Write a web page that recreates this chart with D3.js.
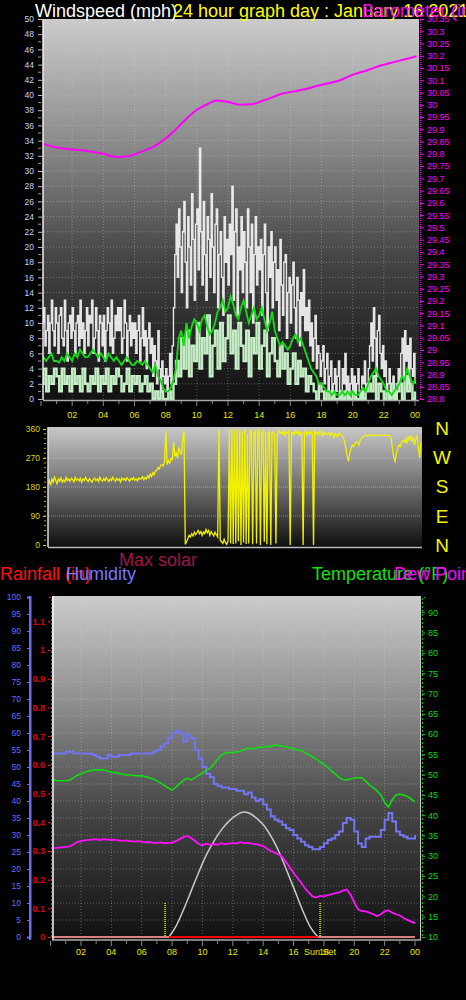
<!DOCTYPE html>
<html>
<head>
<meta charset="utf-8">
<script src="https://cdn.jsdelivr.net/npm/d3@7"></script>
<style>
body { margin: 0; background: #000; overflow: hidden; }
svg { display: block; }
text { font-family: "Liberation Sans", Arial, sans-serif; }
</style>
</head>
<body>
<div id="chart"></div>
<script>
// ---- data ----
// wind gusts, mph, every 5 minutes (12 per hour)
var gust = [
  8,10,12,7,9,11,6,10,13,9,7,12,
  10,6,11,12,8,7,13,9,5,10,11,8,
  12,9,6,10,11,7,13,8,10,6,9,12,
  7,11,10,13,6,8,12,9,5,11,10,7,
  11,5,9,12,10,7,13,6,8,11,9,12,
  9,12,6,8,13,10,5,9,11,7,10,8,
  10,6,9,11,5,8,12,7,9,4,8,10,
  6,8,3,7,5,2,9,4,1,5,3,2,
  4,1,3,6,2,7,12,19,23,16,25,20,
  14,22,26,18,12,24,20,15,27,21,13,23,
  25,17,33,22,15,26,19,13,24,21,16,27,
  20,14,23,25,12,19,22,16,11,24,18,21,
  15,23,19,28,13,22,25,11,20,17,24,14,
  22,18,12,25,20,14,23,10,19,24,15,20,
  17,21,11,19,23,14,9,20,16,22,12,18,
  20,13,17,9,21,15,11,18,19,8,14,16,
  10,15,18,12,8,16,13,7,14,11,17,9,
  12,9,13,7,10,5,8,11,4,7,6,3,
  5,7,2,4,6,1,3,5,0,2,4,1,
  3,5,1,0,4,2,6,1,3,0,2,4,
  1,3,0,2,4,1,0,3,2,5,1,2,
  4,7,10,5,12,8,3,9,11,6,4,7,
  3,5,1,2,4,0,2,3,1,0,2,4,
  2,6,8,3,9,5,7,2,8,4,3,6,
  2
];
// wind speed, mph, every 10 minutes
var speed = [
  2,4,1,3,2,4, 3,1,4,2,3,1, 4,2,3,1,4,2, 1,3,2,4,1,3,
  2,4,1,3,2,4, 3,1,2,4,1,3, 2,3,1,2,3,1, 2,0,1,0,1,0,
  0,1,0,2,5,3, 8,4,9,3,7,5, 10,4,8,6,11,3, 7,9,4,10,5,8,
  11,6,9,4,10,7, 5,9,3,8,6,10, 4,7,9,3,6,8, 5,3,7,4,6,2,
  4,6,2,5,3,4, 1,3,2,1,0,2, 1,0,1,0,1,0, 0,1,0,1,0,0,
  1,0,0,1,0,1, 2,1,3,0,2,1, 0,1,0,2,0,1, 2,0,3,1,2,0,
  1
];
// 10 minute average wind, mph, every 10 minutes
var avgWind = [
  6,5.5,5,5.5,6,5, 5,4.8,5.5,5,6,5.5, 5,6,5.5,6.5,6,5.5, 5.5,6,6.5,6,5.5,6,
  5.5,5,6,5.5,5,5.5, 5,4.5,5,5.5,5,4.5, 4.5,5,4.8,4.5,5,4.5, 4,3.5,4.5,3,2.5,1.5,
  1,1,1.5,2.5,4,8, 9,7,10,8,9.5,10.5, 10,9,10.5,11,9.5,8.5, 9,10,11.5,12,13,11.5,
  12,13.5,12.5,11,10.5,12, 13,11.5,10,11,12,10.5, 11,12,10.5,9,10,11.5, 9,8,7,7.5,7,6.5,
  7,8,8.5,7.5,8,7, 6,5,4,3.5,3,2, 2,1.5,1,1,0.5,1, 0.5,0.5,1,0.5,1,0.5,
  1,0.5,0.5,1,1.5,1, 2,3,3.5,4,3,2.5, 2,1,1,0.5,1,1.5, 2,3,2.5,4,3,2,
  2.5
];
// barometer, inHg: [hour, value]
var baroHours = [0,1,2,3,4,4.9,5.6,6.4,7.2,7.9,8.5,9.2,9.9,10.6,11.3,12.1,12.8,13.5,14.4,15.4,16.7,17.9,19.2,20.1,20.9,21.8,22.7,23.5,24.1];
var baro = [29.844,29.826,29.818,29.812,29.800,29.787,29.790,29.808,29.828,29.858,29.890,29.935,29.975,30.000,30.018,30.010,30.000,30.002,30.020,30.044,30.060,30.080,30.100,30.125,30.140,30.160,30.175,30.188,30.198];
// wind direction, degrees, every 5 minutes
var windDir = [
  190,200,185,205,195,210,200,190,205,198,208,195,
  202,196,210,200,205,198,207,203,196,210,201,205,
  199,207,195,205,200,210,202,197,206,200,195,204,
  208,200,205,197,210,202,198,206,200,209,203,197,
  205,200,210,203,198,207,201,205,196,208,202,206,
  200,209,204,198,207,203,210,201,205,199,208,204,
  206,212,203,210,205,215,208,220,213,225,218,230,
  232,240,236,248,250,245,258,355,250,262,255,268,
  265,320,275,285,270,300,290,280,330,355,2,10,
  20,30,25,35,28,40,32,38,45,35,42,30,
  40,35,48,38,45,30,42,35,28,40,32,25,
  360,15,10,5,18,8,2,12,358,5,360,3,
  355,5,360,12,358,0,352,8,360,3,345,5,
  350,358,2,345,355,5,350,360,0,348,355,10,
  350,2,345,355,0,348,352,340,5,345,355,348,
  350,345,355,340,350,348,355,0,345,350,342,355,
  348,352,340,350,345,0,348,355,342,350,345,352,
  348,0,352,345,350,342,355,347,340,350,343,346,
  345,350,340,348,343,335,345,338,340,348,342,338,
  335,320,300,275,260,285,300,310,305,315,320,318,
  310,325,330,335,338,342,340,338,340,341,340,340,
  340,341,340,340,340,340,340,340,340,340,340,340,
  338,330,300,270,260,285,300,310,305,318,325,320,
  330,315,335,325,340,320,335,310,330,340,300,270,
  320
];
// humidity %, temperature and dew point °F, every 15 minutes
var humidity = [
  54,54,54,54, 54.5,54.5,54,54, 54,54,54,53.5, 53,52.5,52.5,53.5, 53,53,53.5,53.5,
  53.5,54,54,54, 54,54,54,54.5, 55,56,57,58.5, 60,60.7,60,57.5, 59.5,58.5,55,52.5,
  50,48,47,45, 44.5,44,44,43.5, 43.5,43,43,42, 42.5,41,40,40.5, 39,37.5,35.5,34.5,
  34,33,32,31.5, 30,29,28,27, 26.5,25.8,25.8,26.5, 27.6,28.5,29,30, 31,33.5,35,34.5,
  31,27.5,26.5,29, 29.5,29.5,29.5,31.5, 34.5,36.5,34,31, 30,29.5,29,29, 30
];
var temperature = [
  48.7,48.6,48.5,48.5, 48.5,48.6,49.2,49.8, 50.2,50.6,50.9,51.1, 51.2,51.1,51.2,50.9, 50.6,50.5,50.3,50.1,
  49.9,49.9,49.8,49.7, 49.7,49.5,49.2,48.9, 48.5,47.9,47.3,46.7, 46.2,46.9,47.8,48.6, 49.1,48.7,49.2,49.8,
  50.4,51.0,51.6,52.6, 53.8,54.8,55.3,55.5, 55.4,55.6,55.7,56.2, 56.6,56.3,56.5,56.8, 56.7,57.0,56.9,57.3,
  57.2,57.0,56.9,56.6, 56.4,56.1,55.9,55.4, 54.9,54.4,53.8,53.1, 52.5,51.8,50.9,50.1, 49.3,48.8,48.7,48.9,
  49.1,49.3,49.2,48.4, 47.4,46.8,46.0,45.0, 43.2,42.0,43.8,45.0, 45.2,45.0,44.6,44.0, 43.3
];
var dewPoint = [
  31.8,31.9,32.0,32.1, 32.2,32.3,32.8,33.4, 33.6,33.8,33.9,34.0, 34.1,33.9,34.1,34.0, 33.9,34.0,33.8,33.7,
  33.8,33.6,33.5,33.6, 33.5,33.3,33.4,33.2, 33.2,33.3,33.1,33.2, 33.2,33.6,34.1,34.6, 34.9,34.4,33.7,32.9,
  32.6,33.0,32.7,32.9, 32.7,33.1,32.8,33.0, 33.2,33.0,33.4,33.1, 33.2,33.0,32.9,32.7, 32.4,31.8,31.2,30.8,
  30.4,29.8,28.5,27.2, 25.8,24.6,23.4,22.0, 21.0,20.0,19.7,20.1, 20.0,20.3,20.5,20.8, 21.0,21.4,21.7,20.5,
  18.5,16.8,16.4,16.3, 16.0,15.6,15.1,15.6, 16.3,16.6,16.0,15.6, 15.3,14.7,14.2,13.8, 13.4
];
// max solar curve (drawn against the humidity scale): hour / value
var solarHours = [7.8,8.3,8.8,9.3,9.8,10.3,10.8,11.3,11.8,12.3,12.7,13.1,13.6,14.1,14.6,15.1,15.6,16.1,16.6,17.1,17.6];
var solar = [0,3.5,8.5,14,19.5,24.5,28.5,31.8,34.3,36,36.8,36.4,34.8,32.5,29,24.5,19,13.5,7.8,3,0];
var sunRise = 7.54, sunSet = 17.75;
var hourTicks = [2,4,6,8,10,12,14,16,18,20,22,24];
var dirTicks = [0,90,180,270,360];
var compass = ["N","W","S","E","N"];

// ---- helpers ----
var W = 466, H = 1000;
var svg = d3.select("#chart").append("svg").attr("width", W).attr("height", H);
var defs = svg.append("defs");
function grad(id, stops) {
  var g = defs.append("linearGradient").attr("id", id)
    .attr("x1", 0).attr("y1", 0).attr("x2", 0).attr("y2", 1);
  stops.forEach(function(s) { g.append("stop").attr("offset", s[0]).attr("stop-color", s[1]); });
}
grad("bg", [[0, "#cbcbcb"], [0.33, "#8a8a8a"], [0.62, "#464646"], [1, "#111"]]);
grad("bgDir", [[0, "#c8c8c8"], [0.5, "#6e6e6e"], [1, "#0e0e0e"]]);

var fmtHour = function(h) { return String(h % 24).padStart(2, "0"); };
var trim = function(v) { return String(+v.toFixed(2)); };

// ================= TOP PANEL: wind speed + barometer =================
var xTop = d3.scaleLinear().domain([0, 24]).range([41, 415]);
var ySpd = d3.scaleLinear().domain([0, 50]).range([399, 19]);
var yBaro = d3.scaleLinear().domain([28.8, 30.35]).range([399, 19]);

var gTop = svg.append("g");
gTop.append("rect").attr("x", 43).attr("y", 19).attr("width", 376).attr("height", 381).attr("fill", "url(#bg)");
gTop.append("g").selectAll("line").data(d3.range(2, 50, 2)).join("line")
  .attr("x1", 44).attr("x2", 418).attr("y1", function(d) { return ySpd(d); }).attr("y2", function(d) { return ySpd(d); })
  .attr("stroke", "#d8d8d8").attr("stroke-opacity", 0.35).attr("stroke-dasharray", "1,2");
gTop.append("g").selectAll("line").data(hourTicks.slice(0, 11)).join("line")
  .attr("x1", function(d) { return xTop(d); }).attr("x2", function(d) { return xTop(d); })
  .attr("y1", 20).attr("y2", 399)
  .attr("stroke", "#d8d8d8").attr("stroke-opacity", 0.35).attr("stroke-dasharray", "1,2");

var clipTop = defs.append("clipPath").attr("id", "clipTop");
clipTop.append("rect").attr("x", 43).attr("y", 19).attr("width", 376).attr("height", 381);
var plotTop = gTop.append("g").attr("clip-path", "url(#clipTop)");

plotTop.append("path").datum(baro)
  .attr("d", d3.line().x(function(d, i) { return xTop(baroHours[i]); }).y(function(d) { return yBaro(d); }).curve(d3.curveMonotoneX))
  .attr("fill", "none").attr("stroke", "#ff00ff").attr("stroke-width", 2);
plotTop.append("path").datum(gust)
  .attr("d", d3.line().x(function(d, i) { return xTop(i / 12); }).y(function(d) { return ySpd(d); }).curve(d3.curveStepAfter))
  .attr("fill", "none").attr("stroke", "#f4f4f4").attr("stroke-width", 1.4).attr("stroke-opacity", 0.92);
plotTop.append("path").datum(speed)
  .attr("d", d3.line().x(function(d, i) { return xTop(i / 6); }).y(function(d) { return ySpd(d); }).curve(d3.curveStepAfter))
  .attr("fill", "none").attr("stroke", "#c6eec6").attr("stroke-width", 2.4);
plotTop.append("path").datum(avgWind)
  .attr("d", d3.line().x(function(d, i) { return xTop(i / 6); }).y(function(d) { return ySpd(d); }))
  .attr("fill", "none").attr("stroke", "#10e010").attr("stroke-width", 1.8);

// frame
gTop.append("line").attr("x1", 43).attr("x2", 43).attr("y1", 19).attr("y2", 400).attr("stroke", "#eee").attr("stroke-width", 1.5);
gTop.append("line").attr("x1", 43).attr("x2", 419).attr("y1", 400.5).attr("y2", 400.5).attr("stroke", "#aaa").attr("stroke-width", 1.5);

// left axis
var axL = gTop.append("g").attr("transform", "translate(42,0)")
  .call(d3.axisLeft(ySpd).tickValues(d3.range(0, 51, 2)).tickSize(4).tickPadding(4));
axL.select(".domain").remove();
axL.selectAll("line").attr("stroke", "#bbb");
axL.selectAll("text").attr("fill", "#c2d6fa").attr("font-size", 8.5).attr("font-family", "Liberation Sans, Arial");
gTop.append("g").selectAll("line").data(d3.range(1, 50, 2)).join("line")
  .attr("x1", 38).attr("x2", 41).attr("y1", function(d) { return ySpd(d); }).attr("y2", function(d) { return ySpd(d); })
  .attr("stroke", "#999");

// right axis
var axR = gTop.append("g").attr("transform", "translate(420,0)")
  .call(d3.axisRight(yBaro).tickValues(d3.range(0, 32).map(function(i) { return 28.8 + i * 0.05; }))
    .tickFormat(trim).tickSize(4).tickPadding(3));
axR.select(".domain").attr("stroke", "#ff00ff").attr("stroke-dasharray", "1,1");
axR.selectAll("line").attr("stroke", "#ff00ff");
axR.selectAll("text").attr("fill", "#ff00ff").attr("font-size", 9).attr("font-family", "Liberation Sans, Arial");

// x axis
gTop.append("g").selectAll("line").data(d3.range(0, 25)).join("line")
  .attr("x1", function(d) { return xTop(d); }).attr("x2", function(d) { return xTop(d); })
  .attr("y1", 401).attr("y2", function(d) { return d % 2 === 0 ? 406 : 404; }).attr("stroke", "#888");
gTop.append("g").selectAll("text").data(hourTicks).join("text")
  .attr("x", function(d) { return xTop(d); }).attr("y", 418)
  .attr("text-anchor", "middle").attr("fill", "#e8e800").attr("font-size", 9)
  .text(fmtHour);

// ================= WIND DIRECTION PANEL =================
var xDir = d3.scaleLinear().domain([0, 24]).range([48, 421]);
var yDir = d3.scaleLinear().domain([0, 360]).range([545, 429]);
var gDir = svg.append("g");
gDir.append("rect").attr("x", 48).attr("y", 427).attr("width", 374).attr("height", 120).attr("fill", "url(#bgDir)");
gDir.append("g").selectAll("line").data([90, 180, 270]).join("line")
  .attr("x1", 49).attr("x2", 421).attr("y1", function(d) { return yDir(d); }).attr("y2", function(d) { return yDir(d); })
  .attr("stroke", "#ddd").attr("stroke-opacity", 0.45).attr("stroke-dasharray", "1,1");
var clipDir = defs.append("clipPath").attr("id", "clipDir");
clipDir.append("rect").attr("x", 48).attr("y", 427).attr("width", 374).attr("height", 120);
gDir.append("g").attr("clip-path", "url(#clipDir)").append("path").datum(windDir)
  .attr("d", d3.line().x(function(d, i) { return xDir(i / 12); }).y(function(d) { return yDir(d); }))
  .attr("fill", "none").attr("stroke", "#f2f200").attr("stroke-width", 1.3);
gDir.append("line").attr("x1", 48).attr("x2", 48).attr("y1", 427).attr("y2", 547).attr("stroke", "#ddd").attr("stroke-width", 1.5);
gDir.append("line").attr("x1", 48).attr("x2", 422).attr("y1", 547.5).attr("y2", 547.5).attr("stroke", "#bbb").attr("stroke-width", 1.5);
var axD = gDir.append("g").attr("transform", "translate(46,0)")
  .call(d3.axisLeft(yDir).tickValues(dirTicks).tickSize(3).tickPadding(3));
axD.select(".domain").remove();
axD.selectAll("line").attr("stroke", "#d0d000");
axD.selectAll("text").attr("fill", "#d8d800").attr("font-size", 8.5).attr("font-family", "Liberation Sans, Arial");
gDir.append("g").selectAll("line").data(d3.range(15, 360, 15)).join("line")
  .attr("x1", 44).attr("x2", 46).attr("y1", function(d) { return yDir(d); }).attr("y2", function(d) { return yDir(d); })
  .attr("stroke", "#b0b000");
gDir.append("g").selectAll("text").data(compass).join("text")
  .attr("x", 442).attr("y", function(d, i) { return 435 + i * 29.2; })
  .attr("text-anchor", "middle").attr("fill", "#f4f400").attr("font-size", 19)
  .text(function(d) { return d; });

// ================= BOTTOM PANEL =================
var xBot = d3.scaleLinear().domain([0, 24]).range([50.6, 415]);
var yHum = d3.scaleLinear().domain([0, 100]).range([937, 597]);
var yRain = d3.scaleLinear().domain([0, 1.185]).range([937, 597]);
var yTemp = d3.scaleLinear().domain([10, 93.75]).range([937, 597]);
var gBot = svg.append("g");
gBot.append("rect").attr("x", 52).attr("y", 596).attr("width", 369).attr("height", 344).attr("fill", "url(#bg)");
gBot.append("g").selectAll("line").data(d3.range(5, 100, 5)).join("line")
  .attr("x1", 54).attr("x2", 420).attr("y1", function(d) { return yHum(d); }).attr("y2", function(d) { return yHum(d); })
  .attr("stroke", "#d8d8d8").attr("stroke-opacity", 0.35).attr("stroke-dasharray", "1,2");
gBot.append("g").selectAll("line").data(hourTicks.slice(0, 11)).join("line")
  .attr("x1", function(d) { return xBot(d); }).attr("x2", function(d) { return xBot(d); })
  .attr("y1", 597).attr("y2", 937)
  .attr("stroke", "#d8d8d8").attr("stroke-opacity", 0.35).attr("stroke-dasharray", "1,2");

var clipBot = defs.append("clipPath").attr("id", "clipBot");
clipBot.append("rect").attr("x", 52).attr("y", 596).attr("width", 369).attr("height", 344);
var plotBot = gBot.append("g").attr("clip-path", "url(#clipBot)");

var q = function(d, i) { return xBot(i / 4); };
plotBot.append("path").datum(solar)
  .attr("d", d3.line().x(function(d, i) { return xBot(solarHours[i]); }).y(function(d) { return yHum(d); }).curve(d3.curveMonotoneX))
  .attr("fill", "none").attr("stroke", "#c8c8c8").attr("stroke-width", 1.5);
plotBot.append("path").datum(humidity)
  .attr("d", d3.line().x(q).y(function(d) { return yHum(d); }).curve(d3.curveStepAfter))
  .attr("fill", "none").attr("stroke", "#7474f4").attr("stroke-width", 2);
plotBot.append("path").datum(temperature)
  .attr("d", d3.line().x(q).y(function(d) { return yTemp(d); }))
  .attr("fill", "none").attr("stroke", "#10dc10").attr("stroke-width", 1.6);
plotBot.append("path").datum(dewPoint)
  .attr("d", d3.line().x(q).y(function(d) { return yTemp(d); }))
  .attr("fill", "none").attr("stroke", "#ff10ff").attr("stroke-width", 1.8);

// rainfall baseline, bright red while the sun is up
plotBot.append("line").attr("x1", xBot(0)).attr("x2", xBot(24)).attr("y1", yRain(0)).attr("y2", yRain(0))
  .attr("stroke", "#d88080").attr("stroke-width", 2);
plotBot.append("line").attr("x1", xBot(solarHours[0])).attr("x2", xBot(solarHours[solarHours.length - 1]))
  .attr("y1", yRain(0)).attr("y2", yRain(0)).attr("stroke", "#ff0000").attr("stroke-width", 2);
// sunrise / sunset markers
plotBot.append("g").selectAll("line").data([sunRise, sunSet]).join("line")
  .attr("x1", function(d) { return xBot(d); }).attr("x2", function(d) { return xBot(d); })
  .attr("y1", 903).attr("y2", 937)
  .attr("stroke", "#f0f000").attr("stroke-width", 1.5).attr("stroke-dasharray", "1,1");

// frame
gBot.append("line").attr("x1", 53).attr("x2", 53).attr("y1", 596).attr("y2", 940).attr("stroke", "#f4f4f4").attr("stroke-width", 1.5);
gBot.append("line").attr("x1", 52).attr("x2", 421).attr("y1", 940).attr("y2", 940).attr("stroke", "#aaa").attr("stroke-width", 1.5);
gBot.append("line").attr("x1", 420.5).attr("x2", 420.5).attr("y1", 596).attr("y2", 940).attr("stroke", "#ccc").attr("stroke-width", 1);

// humidity axis (blue)
var axH = gBot.append("g").attr("transform", "translate(30,0)")
  .call(d3.axisLeft(yHum).tickValues(d3.range(0, 101, 5)).tickSize(3).tickPadding(6));
axH.select(".domain").attr("stroke", "#6c6cf0").attr("stroke-width", 2);
axH.selectAll("line").attr("stroke", "#6c6cf0");
axH.selectAll("text").attr("fill", "#6a6aff").attr("font-size", 8.5).attr("font-family", "Liberation Sans, Arial");
gBot.append("line").attr("x1", 30).attr("x2", 30).attr("y1", 596).attr("y2", 940).attr("stroke", "#6c6cf0").attr("stroke-width", 2);

// rainfall axis (red)
var axRn = gBot.append("g").attr("transform", "translate(51,0)")
  .call(d3.axisLeft(yRain).tickValues(d3.range(0, 12).map(function(i) { return i / 10; }))
    .tickFormat(trim).tickSize(3).tickPadding(3));
axRn.select(".domain").attr("stroke", "#e02020").attr("stroke-dasharray", "2,2");
axRn.selectAll("line").attr("stroke", "#e02020");
axRn.selectAll("text").attr("fill", "#e00000").attr("font-size", 9).attr("font-weight", "bold").attr("font-family", "Liberation Sans, Arial");

// temperature axis (green)
var axT = gBot.append("g").attr("transform", "translate(422,0)")
  .call(d3.axisRight(yTemp).tickValues(d3.range(10, 91, 5)).tickSize(3).tickPadding(3));
axT.select(".domain").attr("stroke", "#10c010").attr("stroke-dasharray", "2,2");
axT.selectAll("line").attr("stroke", "#10d010");
axT.selectAll("text").attr("fill", "#10d810").attr("font-size", 9).attr("font-family", "Liberation Sans, Arial");

// x axis
gBot.append("g").selectAll("line").data(d3.range(0, 25)).join("line")
  .attr("x1", function(d) { return xBot(d); }).attr("x2", function(d) { return xBot(d); })
  .attr("y1", 941).attr("y2", function(d) { return d % 2 === 0 ? 946 : 944; }).attr("stroke", "#888");
gBot.append("g").selectAll("text").data(hourTicks).join("text")
  .attr("x", function(d) { return xBot(d); }).attr("y", 955)
  .attr("text-anchor", "middle").attr("fill", "#e8e800").attr("font-size", 9)
  .text(fmtHour);
gBot.append("text").attr("x", xBot(sunSet)).attr("y", 955).attr("text-anchor", "middle")
  .attr("fill", "#e8e800").attr("font-size", 9).text("Sun Set");

// ================= TITLES =================
function label(x, y, txt, color, size) {
  svg.append("text").attr("x", x).attr("y", y).attr("fill", color).attr("font-size", size).text(txt);
}
label(35, 17, "Windspeed (mph)", "#ffffff", 18);
label(173, 17, "24 hour graph day : January 16 2021", "#ffff00", 18);
label(362, 17, "Barometer (in)", "#ff00ff", 18);
label(119, 566, "Max solar", "#a0144a", 18);
label(0, 580, "Rainfall (in)", "#ff1010", 18);
label(66, 580, "Humidity", "#7878ff", 18);
label(312, 580, "Temperature (°F)", "#10e010", 18);
label(394, 580, "Dew Point (°F)", "#ff00ff", 18);
</script>
</body>
</html>
